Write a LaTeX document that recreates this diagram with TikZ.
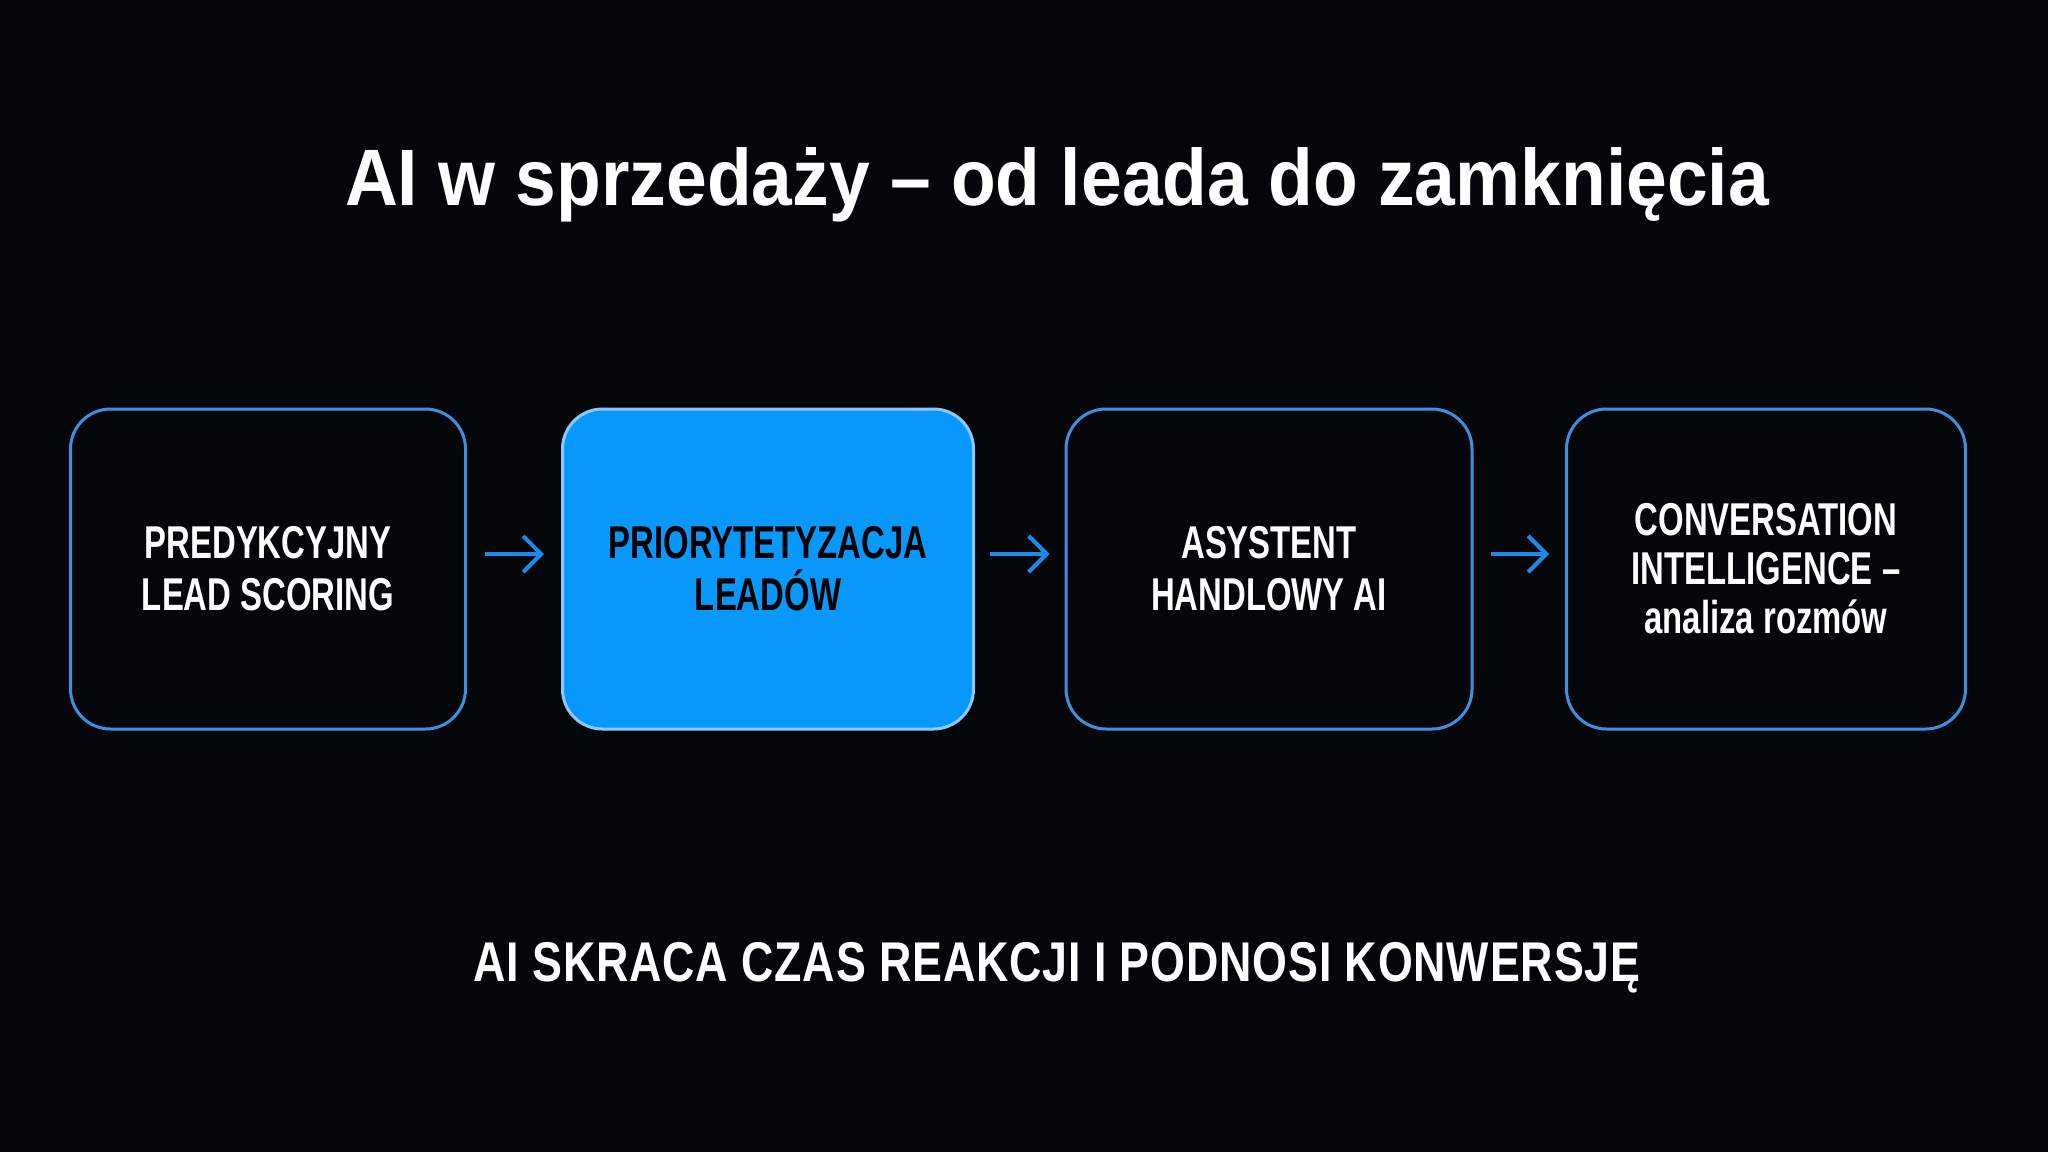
\documentclass[tikz,border=0pt]{standalone}
\usepackage{fontspec}
\setmainfont{Liberation Sans}
\newfontfamily\titlefont[FakeStretch=0.915]{Liberation Sans}
\newfontfamily\condfont[FakeStretch=0.715]{Liberation Sans}
\newfontfamily\footfont[FakeStretch=0.8,LetterSpace=1.5]{Liberation Sans}
\usetikzlibrary{arrows.meta}
\definecolor{bg}{HTML}{050609}
\definecolor{edge}{HTML}{3D8FE0}
\definecolor{fillblue}{HTML}{0898FC}
\definecolor{filledge}{HTML}{8CC8FF}
\definecolor{arrowc}{HTML}{1A8AEC}
\begin{document}
\begin{tikzpicture}[x=1pt,y=-1pt,
  stepbox/.style={draw=edge, line width=3pt, rounded corners=40pt,
    minimum width=396pt, minimum height=320pt, inner sep=0pt, align=center,
    text=white, font=\condfont\bfseries\fontsize{46}{52}\selectfont},
  hibox/.style={stepbox, fill=fillblue, draw=filledge, text=black},
  flow/.style={draw=arrowc, line width=4pt,
    -{Straight Barb[length=18pt,width=36pt,line width=4pt]}},
  titletext/.style={text=white, font=\titlefont\bfseries\fontsize{80}{90}\selectfont},
  foottext/.style={text=white, font=\footfont\bfseries\fontsize{56}{64}\selectfont}]
\fill[bg] (0,0) rectangle (2048,1152);
\useasboundingbox (0,0) rectangle (2048,1152);
\node[titletext] (title) at (1057,185) {AI w sprzedaży – od leada do zamknięcia};
\node[stepbox, minimum width=395pt] (b1) at (268,569) {PREDYKCYJNY\\LEAD SCORING};
\node[hibox, minimum width=411pt] (b2) at (768,569) {PRIORYTETYZACJA\\LEADÓW};
\node[stepbox, minimum width=406pt] (b3) at (1269,569) {ASYSTENT\\HANDLOWY AI};
\node[stepbox, minimum width=399pt, font=\condfont\bfseries\fontsize{46}{49}\selectfont] (b4) at (1766,569) {CONVERSATION\\INTELLIGENCE –\\analiza rozmów};
\draw[flow] ([shift={(18,-15)}]b1.east) -- ([shift={(-17,-15)}]b2.west);
\draw[flow] ([shift={(15,-15)}]b2.east) -- ([shift={(-15,-15)}]b3.west);
\draw[flow] ([shift={(17,-15)}]b3.east) -- ([shift={(-16,-15)}]b4.west);
\node[foottext] (foot) at (1057,968) {AI SKRACA CZAS REAKCJI I PODNOSI KONWERSJĘ};
\end{tikzpicture}
\end{document}
